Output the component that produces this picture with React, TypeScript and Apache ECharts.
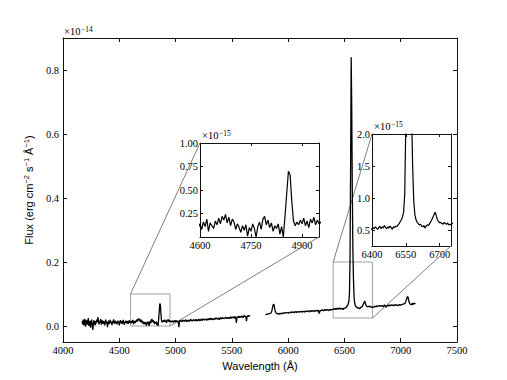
import React, { useEffect, useRef } from "react";
import * as echarts from "echarts";

// Flux values in units of 1e-15 erg cm^-2 s^-1 A^-1
const blueStart = 4170;
const blueStep = 5;
const blueFlux = [
  0.15, 0.05, 0.20, 0.02, 0.12, 0.22, -0.02, 0.10, 0.18, 0.04, 0.14, 0.25, 0.00, 0.08, 0.16, -0.05, 0.12, 0.20, 0.03, -0.12,
  0.06, 0.18, 0.10, 0.02, 0.15, 0.08, 0.20, 0.12, 0.28, 0.14, 0.05, 0.16, 0.10, 0.22, 0.04, 0.12, 0.18, 0.07, 0.15, 0.10,
  0.02, 0.14, 0.20, 0.08, 0.12, -0.04, 0.10, 0.17, 0.06, 0.14, 0.19, 0.09, 0.13, 0.03, 0.15, 0.11, 0.21, 0.07, 0.12, 0.16,
  0.08, 0.13, 0.05, 0.17, 0.10, 0.14, 0.02, 0.12, 0.18, 0.09, 0.15, 0.06, 0.13, 0.19, 0.10, 0.04, 0.14, 0.11, 0.17, 0.08,
  0.12, 0.15, 0.07, 0.13, 0.18, 0.10, 0.14, 0.08, 0.16, 0.11, 0.19, 0.06, 0.15, 0.12, 0.09, 0.17, 0.13, 0.20, 0.14, 0.22,
  0.18, 0.24, 0.15, 0.21, 0.12, 0.19, 0.16, 0.08, 0.14, 0.10, 0.05, 0.12, 0.07, 0.13, 0.01, 0.10, 0.06, 0.14, 0.09, 0.00,
  0.11, 0.16, 0.08, 0.19, 0.22, 0.13, 0.18, 0.10, 0.15, 0.06, 0.12, 0.09, 0.14, 0.03, 0.11, 0.00, 0.22, 0.46, 0.70, 0.66,
  0.38, 0.17, 0.12, 0.16, 0.13, 0.18, 0.14, 0.20, 0.12, 0.17, 0.10, 0.19, 0.15, 0.21, 0.13, 0.18, 0.14, 0.16, 0.12, 0.15,
  0.13, 0.17, 0.11, 0.16, 0.14, 0.18, 0.12, 0.15, 0.17, 0.13, 0.16, 0.10, -0.04, 0.14, 0.18, 0.15, 0.17, 0.13, 0.16, 0.19,
  0.15, 0.18, 0.14, 0.17, 0.20, 0.16, 0.13, 0.18, 0.15, 0.19, 0.17, 0.14, 0.18, 0.21, 0.16, 0.19, 0.15, 0.18, 0.20, 0.17,
  0.19, 0.16, 0.21, 0.18, 0.15, 0.20, 0.17, 0.22, 0.19, 0.16, 0.20, 0.18, 0.23, 0.17, 0.20, 0.19, 0.22, 0.18, 0.21, 0.19,
  0.22, 0.20, 0.18, 0.23, 0.21, 0.19, 0.24, 0.20, 0.22, 0.25, 0.21, 0.19, 0.23, 0.22, 0.20, 0.24, 0.21, 0.23, 0.26, 0.22,
  0.24, 0.21, 0.25, 0.23, 0.20, 0.26, 0.24, 0.22, 0.25, 0.27, 0.23, 0.25, 0.22, 0.26, 0.24, 0.28, 0.25, 0.23, 0.26, 0.24,
  0.27, 0.25, 0.23, 0.28, 0.26, 0.24, 0.29, 0.26, 0.25, 0.28, 0.24, 0.27, 0.30, 0.26, 0.10, 0.25, 0.29, 0.27, 0.31, 0.26,
  0.28, 0.30, 0.27, 0.29, 0.32, 0.28, 0.26, 0.30, 0.33, 0.29, 0.31, 0.28, 0.15, 0.30, 0.32, 0.29, 0.33, 0.31, 0.34,
];

const redStart = 5800;
const redStep = 5;
const redFlux = [
  0.34, 0.36, 0.35, 0.37, 0.36, 0.38, 0.37, 0.39, 0.38, 0.40, 0.42, 0.47, 0.56, 0.64, 0.68, 0.66, 0.56, 0.47, 0.42, 0.40,
  0.39, 0.38, 0.40, 0.39, 0.37, 0.38, 0.40, 0.39, 0.38, 0.40, 0.41, 0.39, 0.40, 0.42, 0.40, 0.39, 0.41, 0.40, 0.42, 0.41,
  0.42, 0.40, 0.43, 0.41, 0.42, 0.44, 0.41, 0.43, 0.42, 0.44, 0.43, 0.41, 0.44, 0.43, 0.45, 0.42, 0.44, 0.43, 0.45, 0.44,
  0.43, 0.45, 0.44, 0.46, 0.43, 0.45, 0.44, 0.46, 0.45, 0.43, 0.46, 0.45, 0.47, 0.44, 0.46, 0.45, 0.47, 0.46, 0.44, 0.47,
  0.46, 0.48, 0.45, 0.47, 0.46, 0.48, 0.47, 0.45, 0.48, 0.47, 0.49, 0.46, 0.48, 0.47, 0.49, 0.39, 0.44, 0.48, 0.47, 0.49,
  0.48, 0.50, 0.49, 0.47, 0.50, 0.49, 0.51, 0.48, 0.50, 0.49, 0.51, 0.50, 0.48, 0.51, 0.50, 0.52, 0.49, 0.51, 0.50, 0.52,
  0.51, 0.54, 0.52, 0.55, 0.53, 0.51, 0.54, 0.56, 0.52, 0.55, 0.53, 0.57, 0.54, 0.52, 0.55, 0.53, 0.56, 0.54, 0.51, 0.55,
  0.54, 0.56, 0.55, 0.58, 0.60, 0.63, 0.66, 0.70, 0.78, 1.05, 2.20, 5.00, 8.40, 6.80, 4.20, 2.40, 1.50, 0.95, 0.74, 0.66,
  0.62, 0.60, 0.58, 0.59, 0.56, 0.55, 0.57, 0.53, 0.56, 0.58, 0.57, 0.60, 0.63, 0.66, 0.70, 0.74, 0.78, 0.72, 0.66, 0.63,
  0.61, 0.62, 0.60, 0.59, 0.62, 0.60, 0.59, 0.61, 0.58, 0.59, 0.58, 0.60, 0.61, 0.59, 0.62, 0.60, 0.61, 0.63, 0.60, 0.62,
  0.61, 0.63, 0.62, 0.64, 0.61, 0.63, 0.62, 0.64, 0.63, 0.60, 0.62, 0.66, 0.62, 0.64, 0.58, 0.61, 0.64, 0.63, 0.65, 0.62,
  0.64, 0.66, 0.63, 0.65, 0.64, 0.66, 0.65, 0.63, 0.66, 0.64, 0.65, 0.67, 0.64, 0.66, 0.65, 0.63, 0.66, 0.65, 0.67, 0.64,
  0.66, 0.65, 0.67, 0.66, 0.68, 0.67, 0.69, 0.70, 0.72, 0.76, 0.82, 0.88, 0.92, 0.90, 0.82, 0.74, 0.70, 0.68, 0.69, 0.67,
  0.70, 0.66, 0.72, 0.68, 0.71, 0.69, 0.72,
];

// Axis ranges and ticks
const mainXRange = [4000, 7500];
const mainYRange = [-0.05, 0.9]; // units of 1e-14
const mainXTicks = [4000, 4500, 5000, 5500, 6000, 6500, 7000, 7500];
const mainYTicks = [0.0, 0.2, 0.4, 0.6, 0.8];

const inset1XRange = [4600, 4950];
const inset1YRange = [0, 1.0]; // units of 1e-15
const inset1XTicks = [4600, 4750, 4900];
const inset1YTicks = [0.25, 0.5, 0.75, 1.0];

const inset2XRange = [6400, 6750];
const inset2YRange = [0.25, 2.0];
const inset2XTicks = [6400, 6550, 6700];
const inset2YTicks = [0.5, 1.0, 1.5, 2.0];

const SERIF = "Liberation Serif";
const SANS = "Liberation Sans";
const FRAME = "#111";

function toPairs(start: number, step: number, arr: number[], scale: number) {
  return arr.map((v, i) => [start + i * step, v * scale]);
}

function axes(
  gridIndex: number,
  xr: number[],
  yr: number[],
  xt: number[],
  yt: number[],
  xfmt: (v: number) => string,
  yfmt: (v: number) => string,
  tickLen: number,
  xMargin: number,
  yMargin: number,
  fs: number
) {
  const line = { show: true, onZero: false, lineStyle: { color: FRAME, width: 1 } };
  const lbl = { fontFamily: SERIF, fontSize: fs, color: "#000", fontWeight: "normal" };
  const xa = [
    {
      gridIndex, type: "value", min: xr[0], max: xr[1], position: "bottom",
      axisLine: line,
      axisTick: { show: true, inside: true, length: tickLen, customValues: xt, lineStyle: { color: FRAME } },
      axisLabel: { ...lbl, customValues: xt, margin: xMargin, formatter: xfmt },
      splitLine: { show: false },
    },
    {
      gridIndex, type: "value", min: xr[0], max: xr[1], position: "top",
      axisLine: line,
      axisTick: { show: true, inside: true, length: tickLen, customValues: xt, lineStyle: { color: FRAME } },
      axisLabel: { show: false },
      splitLine: { show: false },
    },
  ];
  const ya = [
    {
      gridIndex, type: "value", min: yr[0], max: yr[1], position: "left",
      axisLine: line,
      axisTick: { show: true, inside: true, length: tickLen, customValues: yt, lineStyle: { color: FRAME } },
      axisLabel: { ...lbl, customValues: yt, margin: yMargin, formatter: yfmt },
      splitLine: { show: false },
    },
    {
      gridIndex, type: "value", min: yr[0], max: yr[1], position: "right",
      axisLine: line,
      axisTick: { show: true, inside: true, length: tickLen, customValues: yt, lineStyle: { color: FRAME } },
      axisLabel: { show: false },
      splitLine: { show: false },
    },
  ];
  return { xa, ya };
}

export default function App() {
  const ref = useRef<HTMLDivElement>(null);

  useEffect(() => {
    document.body.style.margin = "0";
    const chart = echarts.init(ref.current!, null, { renderer: "svg" });

    const blueMain = toPairs(blueStart, blueStep, blueFlux, 0.1);
    const redMain = toPairs(redStart, redStep, redFlux, 0.1);
    const blueIns = toPairs(blueStart, blueStep, blueFlux, 1);
    const redIns = toPairs(redStart, redStep, redFlux, 1);

    const xInt = (v: number) => String(Math.round(v));
    const a0 = axes(0, mainXRange, mainYRange, mainXTicks, mainYTicks, xInt, (v) => v.toFixed(1), 4, 3, 4, 10.5);
    const a1 = axes(1, inset1XRange, inset1YRange, inset1XTicks, inset1YTicks, xInt, (v) => v.toFixed(2), 3, 3, 2, 10.5);
    const a2 = axes(2, inset2XRange, inset2YRange, inset2XTicks, inset2YTicks, xInt, (v) => v.toFixed(1), 3, 3, 2, 10.5);

    (a0.xa[0] as any).name = "Wavelength (Å)";
    (a0.xa[0] as any).nameLocation = "middle";
    (a0.xa[0] as any).nameGap = 17;
    (a0.xa[0] as any).nameTextStyle = { fontFamily: SANS, fontSize: 11, color: "#000" };

    (a0.ya[0] as any).name = "{n|Flux (erg cm}{s|−2}{n| s}{s|−1}{n| Å}{s|−1}{n|)}";
    (a0.ya[0] as any).nameLocation = "middle";
    (a0.ya[0] as any).nameGap = 23;
    (a0.ya[0] as any).nameTextStyle = {
      fontFamily: SANS, fontSize: 11, color: "#000",
      rich: {
        n: { fontFamily: SANS, fontSize: 11, color: "#000", lineHeight: 12, verticalAlign: "bottom" },
        s: { fontFamily: SANS, fontSize: 7.5, color: "#000", lineHeight: 12, verticalAlign: "top" },
      },
    };

    const lineSeries = (data: number[][], axisBase: number, width: number) => ({
      type: "line",
      data,
      xAxisIndex: axisBase,
      yAxisIndex: axisBase,
      showSymbol: false,
      symbol: "none",
      clip: true,
      lineStyle: { color: "#000", width },
      z: 3,
    });

    chart.setOption({
      animation: false,
      backgroundColor: "#fff",
      textStyle: { fontFamily: SERIF },
      grid: [
        { left: 63, top: 38, width: 394, height: 304, show: false },
        { left: 200, top: 143, width: 119, height: 94, show: true, backgroundColor: "#fff", borderWidth: 0 },
        { left: 372, top: 134, width: 79, height: 112, show: true, backgroundColor: "#fff", borderWidth: 0 },
      ],
      xAxis: [...a0.xa, ...a1.xa, ...a2.xa],
      yAxis: [...a0.ya, ...a1.ya, ...a2.ya],
      series: [
        lineSeries(blueMain, 0, 1.3),
        lineSeries(redMain, 0, 1.3),
        lineSeries(blueIns, 2, 1.2),
        lineSeries(redIns, 4, 1.2),
      ],
    });

    const px = (axisBase: number, pt: number[]) =>
      chart.convertToPixel({ xAxisIndex: axisBase, yAxisIndex: axisBase } as any, pt) as number[];

    const graphics: any[] = [];
    const insets = [
      { base: 2, xr: inset1XRange, yr: inset1YRange },
      { base: 4, xr: inset2XRange, yr: inset2YRange },
    ];
    insets.forEach((ins) => {
      const bTL = px(0, [ins.xr[0], ins.yr[1] / 10]);
      const bBR = px(0, [ins.xr[1], ins.yr[0] / 10]);
      const iTL = px(ins.base, [ins.xr[0], ins.yr[1]]);
      const iBR = px(ins.base, [ins.xr[1], ins.yr[0]]);
      graphics.push({
        type: "rect",
        shape: { x: bTL[0], y: bTL[1], width: bBR[0] - bTL[0], height: bBR[1] - bTL[1] },
        style: { fill: "none", stroke: "#a0a0a0", lineWidth: 1 },
        z: 1,
      });
      graphics.push({
        type: "line",
        shape: { x1: bTL[0], y1: bTL[1], x2: iTL[0], y2: iTL[1] },
        style: { stroke: "#808080", lineWidth: 1 },
        z: 1,
      });
      graphics.push({
        type: "line",
        shape: { x1: bBR[0], y1: bBR[1], x2: iBR[0], y2: iBR[1] },
        style: { stroke: "#808080", lineWidth: 1 },
        z: 1,
      });
    });

    const expLabel = (x: number, y: number, exp: string) => [
      {
        type: "text", x, y, z: 10,
        style: { text: "×10", fontFamily: SERIF, fontSize: 10.5, fill: "#000", align: "left", verticalAlign: "bottom" },
      },
      {
        type: "text", x: x + 17, y: y - 4, z: 10,
        style: { text: exp, fontFamily: SERIF, fontSize: 7.5, fill: "#000", align: "left", verticalAlign: "bottom" },
      },
    ];
    const mTL = px(0, [mainXRange[0], mainYRange[1]]);
    const i1TL = px(2, [inset1XRange[0], inset1YRange[1]]);
    const i2TL = px(4, [inset2XRange[0], inset2YRange[1]]);
    graphics.push(...expLabel(mTL[0] + 1, mTL[1] - 1, "−14"));
    graphics.push(...expLabel(i1TL[0] + 2, i1TL[1] - 2, "−15"));
    graphics.push(...expLabel(i2TL[0] + 2, i2TL[1] - 2, "−15"));

    chart.setOption({ graphic: graphics });

    return () => chart.dispose();
  }, []);

  return <div ref={ref} style={{ width: 507, height: 380 }} />;
}
